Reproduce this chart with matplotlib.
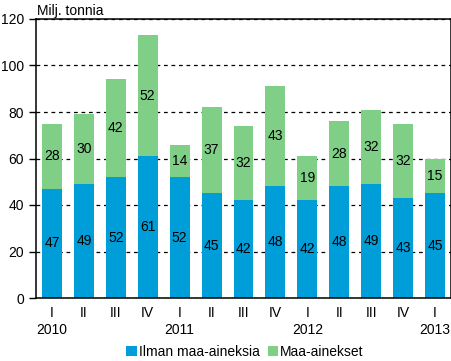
import matplotlib
matplotlib.use("Agg")
import matplotlib.pyplot as plt
import numpy as np

plt.rcParams['font.family'] = ['Liberation Sans', 'DejaVu Sans']

quarters = ["I", "II", "III", "IV", "I", "II", "III", "IV", "I", "II", "III", "IV", "I"]
years = ["2010", "", "", "", "2011", "", "", "", "2012", "", "", "", "2013"]
ilman = [47, 49, 52, 61, 52, 45, 42, 48, 42, 48, 49, 43, 45]
maa = [28, 30, 42, 52, 14, 37, 32, 43, 19, 28, 32, 32, 15]
series_names = ["Ilman maa-aineksia", "Maa-ainekset"]
colors = ["#009ED8", "#7FCF87"]

fig = plt.figure(figsize=(4.52, 3.61), dpi=100)
ax = fig.add_axes([36/452, 63/361, 415/452, 279/361])

x = np.arange(len(quarters))
w = 0.625
b1 = ax.bar(x, ilman, w, color=colors[0], label=series_names[0], zorder=2)
b2 = ax.bar(x, maa, w, bottom=ilman, color=colors[1], label=series_names[1], zorder=2)

for i in range(len(x)):
    ax.text(x[i], ilman[i] / 2, str(ilman[i]), ha='center', va='center', fontsize=10, zorder=3)
    ax.text(x[i], ilman[i] + maa[i] / 2, str(maa[i]), ha='center', va='center', fontsize=10, zorder=3)

ax.set_xlim(-0.5, len(x) - 0.5)
ax.set_ylim(0, 120)
ax.set_yticks(range(0, 121, 20))
ax.yaxis.grid(True, color='black', linestyle=(0, (3, 3)), linewidth=0.9, zorder=1)
ax.set_axisbelow(True)
ax.tick_params(axis='y', labelsize=10, length=5, width=1, direction='out')
ax.set_xticks(x)
ax.set_xticklabels([q + "\n" + y if y else q + "\n" for q, y in zip(quarters, years)], fontsize=10, linespacing=1.25)
ax.tick_params(axis='x', length=0, pad=6)
for s in ax.spines.values():
    s.set_linewidth(1.1)
    s.set_color('black')

fig.text(37/452, 1 - 11/361, "Milj. tonnia", fontsize=10, ha='left', va='center')

fig.legend(handles=[b1, b2], labels=series_names, loc='center', bbox_to_anchor=(245/452, 9/361),
           ncol=2, frameon=False, fontsize=10, handlelength=0.75, handleheight=0.75,
           handletextpad=0.15, columnspacing=0.6, borderaxespad=0, borderpad=0)

fig.savefig("out.png", dpi=100)
